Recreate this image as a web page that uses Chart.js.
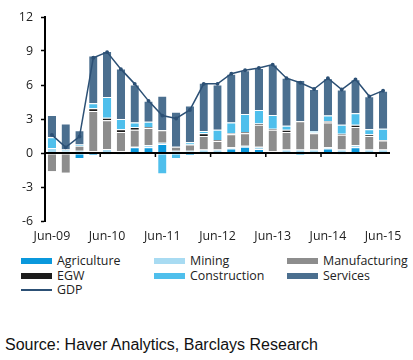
<!DOCTYPE html>
<html>
<head>
<meta charset="utf-8">
<script src="https://cdn.jsdelivr.net/npm/chart.js@4/dist/chart.umd.min.js"></script>
<style>
  html, body { margin: 0; padding: 0; background: #fff; }
  body { width: 413px; height: 360px; position: relative; overflow: hidden; }
  #wrap { position: absolute; left: 0; top: 0; width: 413px; height: 250px; }
  #legend { position: absolute; left: 0; top: 253px; width: 413px; font-family: "Open Sans", sans-serif; font-size: 12.4px; color: #222; }
  .item { position: absolute; height: 16px; line-height: 16px; white-space: nowrap; }
  .mk { position: absolute; left: 0; top: 5px; width: 31px; height: 6px; }
  .mk.line { top: 7px; height: 2px; }
  .txt { position: absolute; left: 36px; top: 0; }
  #source { position: absolute; left: 5px; top: 336px; font-family: "Liberation Sans", Arial, sans-serif; font-size: 16px; color: #111; white-space: nowrap; }
</style>
</head>
<body>
<div id="wrap"><canvas id="c"></canvas></div>
<div id="legend"></div>
<div id="source">Source: Haver Analytics, Barclays Research</div>
<script>
const categories = ["Jun-09","Sep-09","Dec-09","Mar-10","Jun-10","Sep-10","Dec-10","Mar-11","Jun-11","Sep-11","Dec-11","Mar-12","Jun-12","Sep-12","Dec-12","Mar-13","Jun-13","Sep-13","Dec-13","Mar-14","Jun-14","Sep-14","Dec-14","Mar-15","Jun-15"];
const agriculture   = [0, 0, -0.45, -0.15, -0.1, -0.1, 0.5, 0.5, 0.8, 0, -0.15, 0, 0, 0.4, 0.55, 0.35, 0, 0, 0, 0, 0.4, -0.1, 0.5, 0, 0];
const mining        = [0.45, 0.2, 0.2, 0.15, 0.35, 0.15, 0.05, 0.2, 0.1, 0.2, 0.2, 0.3, 0.3, 0.1, 0.1, 0.2, 0.15, 0.3, 0.3, 0.3, 0.1, 0.3, 0.2, 0.3, 0.3];
const manufacturing = [-1.6, -1.75, 0.45, 3.55, 2.55, 1.7, 1.5, 1.5, 1.1, 0.35, 0.55, 1.2, 0.75, 1.15, 1.1, 1.95, 1.9, 1.55, 2.5, 1.45, 2.2, 1.3, 1.6, 1.2, 0.8];
const egw           = [0, 0, 0, 0.25, 0.2, 0.25, 0.25, 0.1, 0, 0, 0, 0.25, 0.1, 0.1, 0.1, 0.1, 0.1, 0.2, 0, 0.05, 0.1, 0.1, 0.2, 0.15, 0.05];
const construction  = [0.95, 0.1, 0.1, 0.45, 1.85, 0.9, 0.4, 0.45, -1.8, -0.45, 0.2, 0.2, 0.9, 0.95, 1.6, 1.2, 1.2, 0.35, -0.15, 0.15, 0.5, 0.8, 1.0, 0.45, 1.0];
const services      = [1.95, 2.3, 1.25, 4.2, 4.05, 4.45, 3.35, 1.85, 3.05, 3.1, 3.25, 4.25, 4.0, 4.3, 3.85, 3.7, 4.45, 4.25, 3.65, 3.7, 3.3, 3.1, 3.0, 2.9, 3.35];
const gdp           = [1.6, 0.5, 1.45, 8.4, 8.9, 7.4, 6.1, 4.6, 3.3, 3.05, 3.8, 6.1, 6.1, 7.0, 7.3, 7.5, 7.8, 6.6, 6.2, 5.65, 6.6, 5.6, 6.5, 5.0, 5.5];
const yTicks = [-6, -3, 0, 3, 6, 9, 12];
const shownLabels = ["Jun-09","Jun-10","Jun-11","Jun-12","Jun-13","Jun-14","Jun-15"];

const barSeries = [
  { label: "Agriculture",   data: agriculture,   color: "#0a98dc" },
  { label: "Mining",        data: mining,        color: "#a8dbf2" },
  { label: "Manufacturing", data: manufacturing, color: "#8d8d8d" },
  { label: "EGW",           data: egw,           color: "#1c1c1c" },
  { label: "Construction",  data: construction,  color: "#4fbfec" },
  { label: "Services",      data: services,      color: "#4b6f8f" }
];
const gdpColor = "#2c5075";

const datasets = barSeries.map(s => ({
  type: "bar",
  label: s.label,
  data: s.data,
  backgroundColor: s.color,
  borderColor: "#ffffff",
  borderWidth: { top: 1, bottom: 0, left: 0, right: 0 },
  borderSkipped: false,
  barPercentage: 0.6,
  categoryPercentage: 1.0,
  stack: "s",
  order: 2
}));
datasets.push({
  type: "line",
  label: "GDP",
  data: gdp,
  borderColor: gdpColor,
  backgroundColor: gdpColor,
  borderWidth: 1.5,
  pointRadius: 1.2,
  pointHoverRadius: 0,
  tension: 0,
  stack: "gdp",
  order: 0
});

const catTicks = {
  id: "catTicks",
  afterDatasetsDraw(chart) {
    const x = chart.scales.x, y = chart.scales.y, ctx = chart.ctx;
    const y0 = y.getPixelForValue(0);
    ctx.save();
    ctx.strokeStyle = "#000";
    ctx.lineWidth = 2;
    ctx.beginPath();
    ctx.moveTo(chart.chartArea.left, y0);
    ctx.lineTo(chart.chartArea.right, y0);
    ctx.stroke();
    ctx.lineWidth = 1.5;
    for (let i = 4; i < categories.length; i += 4) {
      const px = (x.getPixelForValue(i - 1) + x.getPixelForValue(i)) / 2;
      ctx.beginPath();
      ctx.moveTo(px, y0);
      ctx.lineTo(px, y0 + 4);
      ctx.stroke();
    }
    ctx.restore();
  }
};

new Chart(document.getElementById("c"), {
  data: { labels: categories, datasets },
  options: {
    responsive: true,
    maintainAspectRatio: false,
    animation: false,
    devicePixelRatio: 1,
    layout: { padding: { top: 17, right: 23, left: 0, bottom: 0 } },
    plugins: { legend: { display: false }, tooltip: { enabled: false } },
    scales: {
      x: {
        stacked: true,
        offset: true,
        grid: { display: false, drawTicks: false },
        border: { display: false },
        ticks: {
          autoSkip: false,
          maxRotation: 0,
          padding: 8,
          color: "#222",
          font: { family: "Open Sans", size: 12.4 },
          callback: function(v, i) { const l = categories[i]; return shownLabels.includes(l) ? l : ""; }
        },
        afterFit: s => { s.height = 29; }
      },
      y: {
        stacked: true,
        min: -6, max: 12,
        afterBuildTicks: s => { s.ticks = yTicks.map(v => ({ value: v })); },
        grid: {
          drawOnChartArea: false,
          drawTicks: true,
          tickLength: 4,
          tickColor: "#000",
          tickWidth: 1.5
        },
        border: { display: true, color: "#000", width: 2 },
        ticks: {
          padding: 8,
          color: "#222",
          font: { family: "Open Sans", size: 12.4 }
        },
        afterFit: s => { s.width = 45; }
      }
    }
  },
  plugins: [catTicks]
});

// HTML legend built from the same series
const legend = document.getElementById("legend");
const legendItems = barSeries.map(s => ({ label: s.label, color: s.color, line: false }))
  .concat([{ label: "GDP", color: gdpColor, line: true }]);
const colX = [21, 154, 287];
const rowY = [0, 15, 29];
legendItems.forEach((it, i) => {
  const d = document.createElement("div");
  d.className = "item";
  d.style.left = colX[i % 3] + "px";
  d.style.top = rowY[Math.floor(i / 3)] + "px";
  const m = document.createElement("span");
  m.className = "mk" + (it.line ? " line" : "");
  m.style.background = it.color;
  const t = document.createElement("span");
  t.className = "txt";
  t.textContent = it.label;
  d.appendChild(m); d.appendChild(t);
  legend.appendChild(d);
});
</script>
</body>
</html>
